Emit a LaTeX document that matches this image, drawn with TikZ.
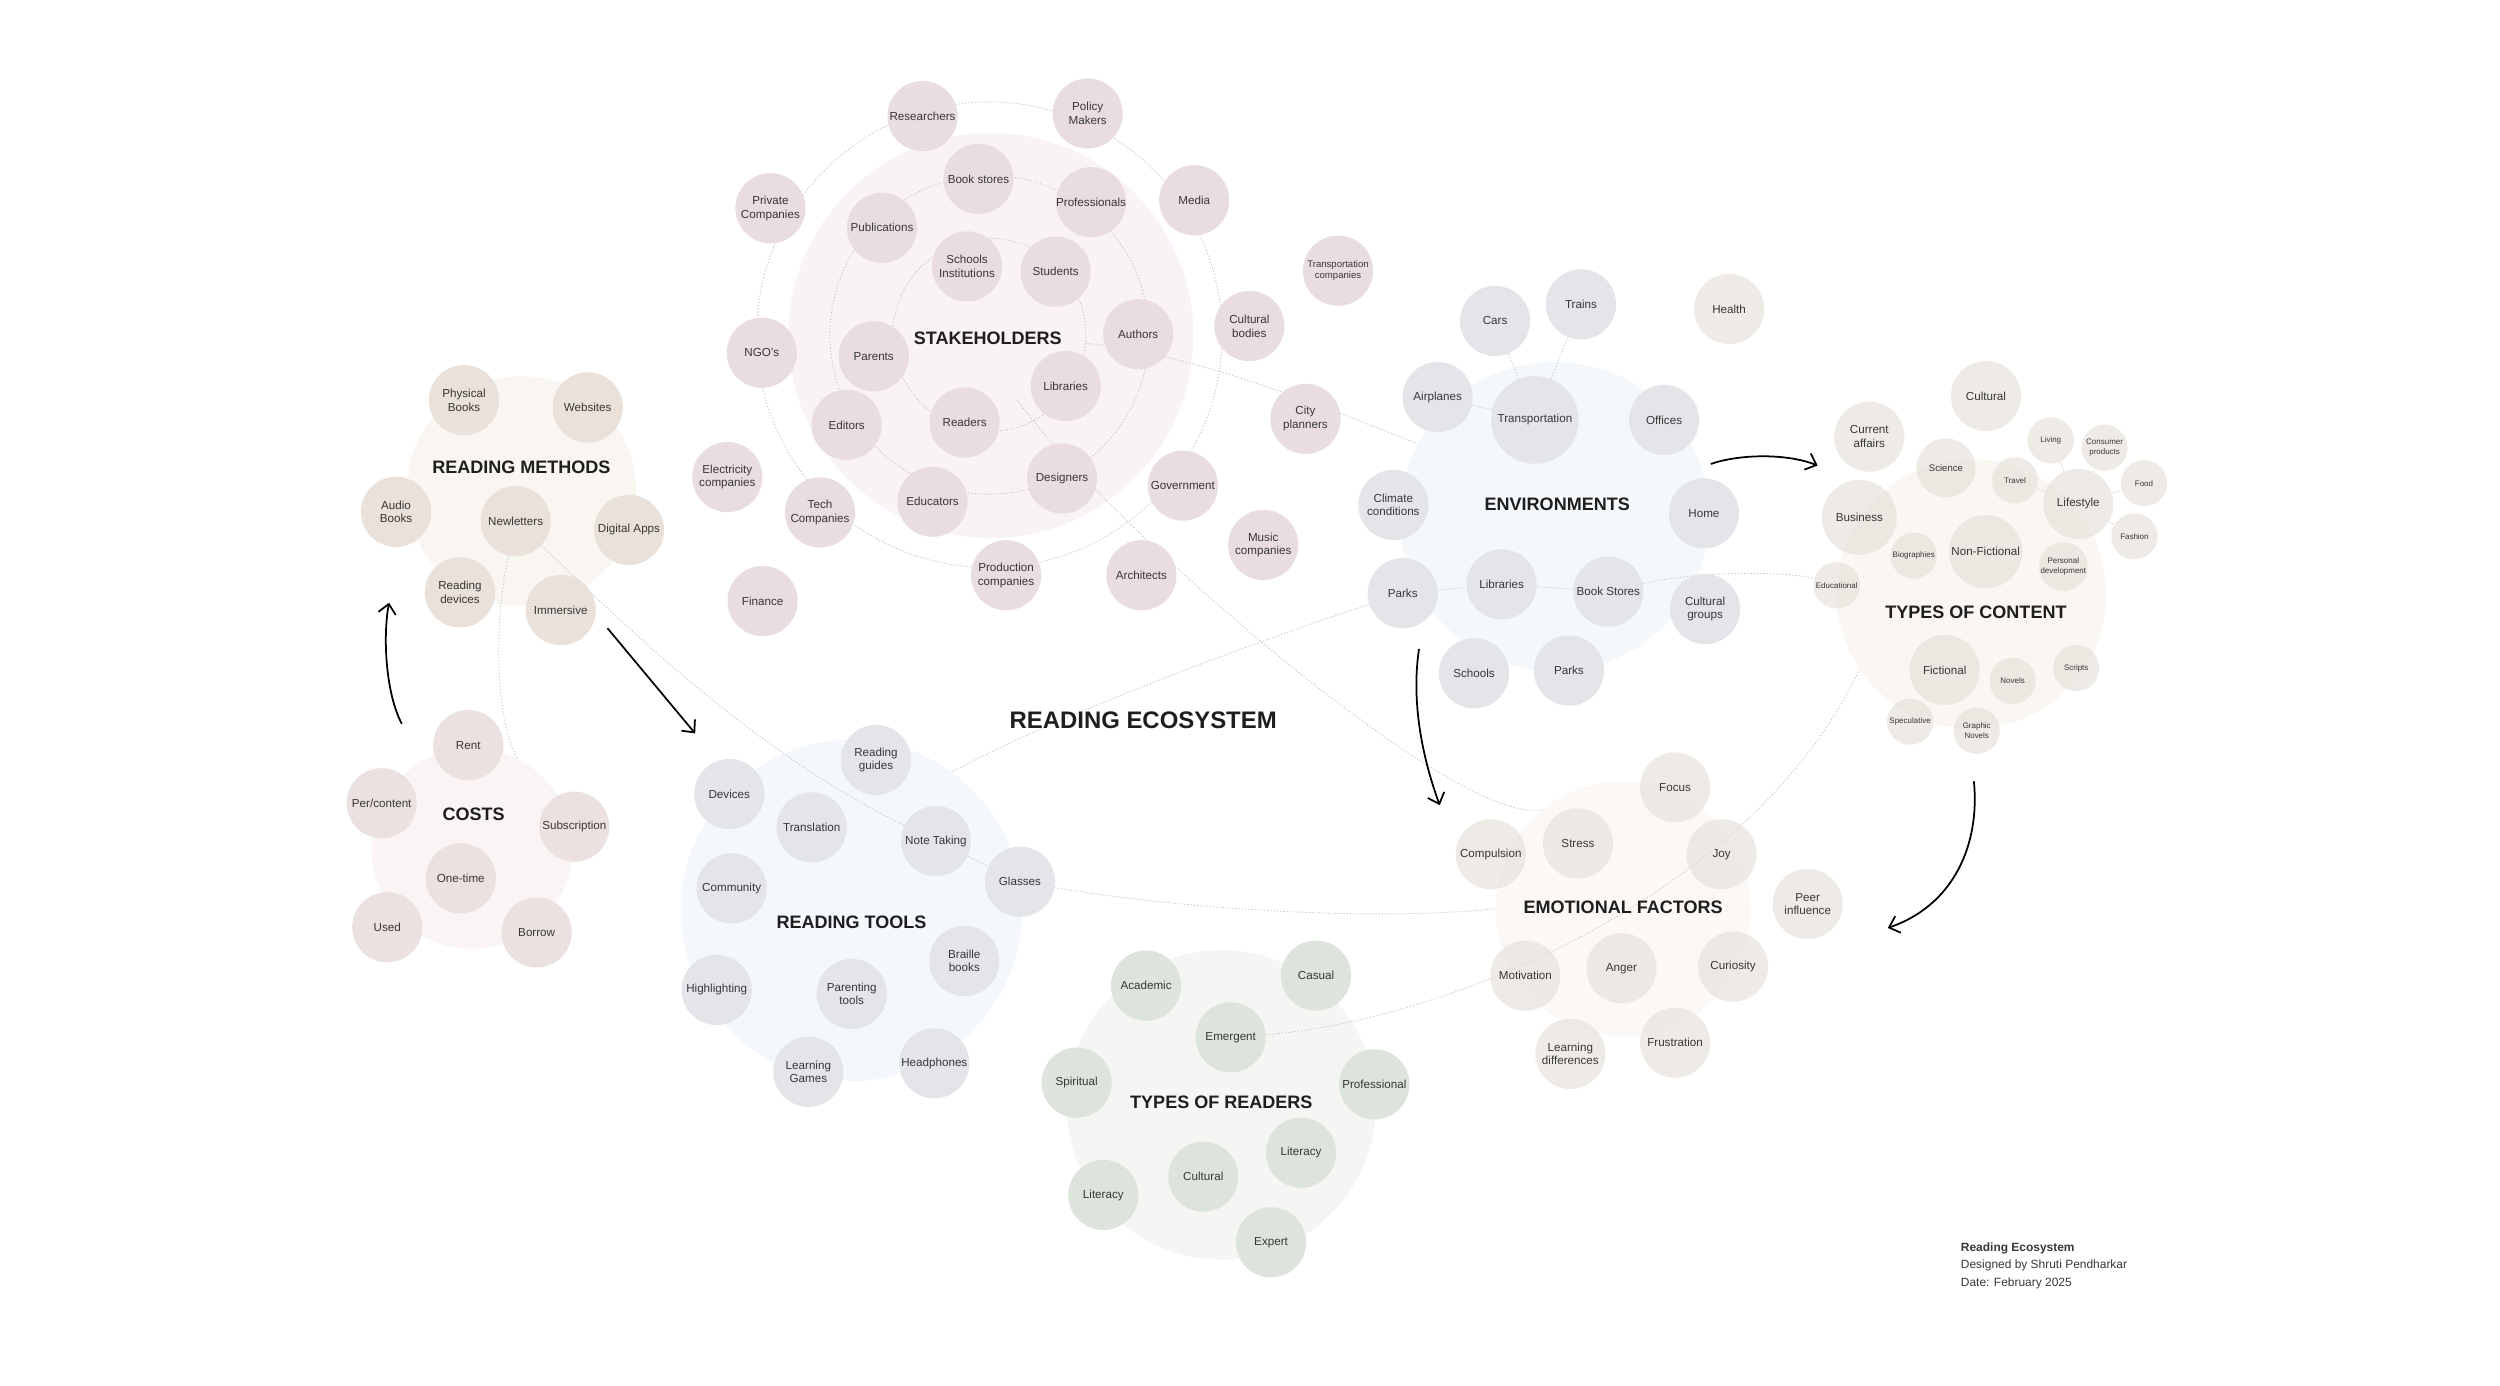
\documentclass[tikz,border=0pt]{standalone}
\usepackage{fontspec}
\setmainfont{Liberation Sans}
\usepackage{xcolor}
\usepackage{tikz}
\usetikzlibrary{arrows.meta}
\pgfdeclarelayer{back}
\pgfdeclarelayer{wires}
\pgfsetlayers{back,wires,main}

\definecolor{ink}{HTML}{383838}
\definecolor{headink}{HTML}{1E1E1E}
\definecolor{wire}{HTML}{C4C4C4}
\definecolor{stakefill}{HTML}{E9DDDF}
\definecolor{stakeback}{HTML}{FAF3F3}
\definecolor{methfill}{HTML}{E9E1DA}
\definecolor{methback}{HTML}{F9F6F1}
\definecolor{costfill}{HTML}{ECE1E1}
\definecolor{costback}{HTML}{FAF5F4}
\definecolor{toolfill}{HTML}{E3E5E9}
\definecolor{toolback}{HTML}{F4F7FB}
\definecolor{readfill}{HTML}{DDE4DB}
\definecolor{readback}{HTML}{F5F5F4}
\definecolor{envfill}{HTML}{E3E5E9}
\definecolor{envback}{HTML}{F5F8FB}
\definecolor{emofill}{HTML}{E4DED7}
\definecolor{emoback}{HTML}{FBF8F5}
\definecolor{contfill}{HTML}{E4DED7}
\definecolor{contback}{HTML}{FAF6F2}

\begin{document}
\begin{tikzpicture}[
  x=1pt, y=-1pt,
  >={Straight Barb[length=6pt, width=11pt]},
  bub/.style={circle, inner sep=0pt, minimum size=44pt, align=center, text=ink, font=\fontsize{7.3}{8.6}\selectfont},
  smallbub/.style={minimum size=29pt, font=\fontsize{5}{6}\selectfont},
  midbub/.style={minimum size=37pt, font=\fontsize{6}{7}\selectfont},
  stake/.style={bub, fill=stakefill},
  meth/.style={bub, fill=methfill},
  cost/.style={bub, fill=costfill},
  tool/.style={bub, fill=toolfill},
  reader/.style={bub, fill=readfill},
  env/.style={bub, fill=envfill},
  emo/.style={bub, fill=emofill, fill opacity=0.6, text opacity=1},
  cont/.style={bub, fill=contfill, fill opacity=0.6, text opacity=1},
  disc/.style={circle, inner sep=0pt},
  ring/.style={circle, inner sep=0pt, draw=wire, line width=0.5pt, dash pattern=on 0.8pt off 1.2pt},
  link/.style={draw=wire, line width=0.5pt, dash pattern=on 0.8pt off 1.2pt},
  head/.style={font=\fontsize{11.3}{13}\selectfont\bfseries, text=headink},
  flow/.style={->, line width=1.1pt},
]
  \useasboundingbox (0,0) rectangle (1568,869);

  \begin{pgfonlayer}{back}
    \fill[white] (0,0) rectangle (1568,869);
    \node[disc, fill=stakeback, minimum size=254pt] (stakedisc) at (621.5,210.5) {};
    \node[disc, fill=methback, minimum size=144pt] (methdisc) at (327,308) {};
    \node[disc, fill=costback, minimum size=126pt] (costdisc) at (296,532) {};
    \node[disc, fill=toolback, minimum size=214pt] (tooldisc) at (534,571) {};
    \node[disc, fill=readback, minimum size=194pt] (readdisc) at (766,693) {};
    \node[disc, fill=envback, minimum size=194pt] (envdisc) at (975,324) {};
    \node[disc, fill=emoback, minimum size=160pt] (emodisc) at (1018,570) {};
    \node[disc, fill=contback, minimum size=169pt] (contdisc) at (1236.5,372.5) {};
    \node[ring, minimum size=121pt] (ringA) at (620.5,210) {};
    \node[ring, minimum size=200pt] (ringB) at (620.5,210) {};
    \node[ring, minimum size=292pt] (ringC) at (620.5,210) {};
  \end{pgfonlayer}

  \node[stake] (researchers) at (578.6,72.8) {Researchers};
  \node[stake] (policy) at (682.2,71.2) {Policy\\Makers};
  \node[stake] (private) at (483.2,130.6) {Private\\Companies};
  \node[stake] (bookstoresS) at (613.7,112.2) {Book stores};
  \node[stake] (professionals) at (684.3,126.8) {Professionals};
  \node[stake] (media) at (749,125.6) {Media};
  \node[stake] (publications) at (553.2,142.9) {Publications};
  \node[stake] (schoolsS) at (606.5,167.1) {Schools\\Institutions};
  \node[stake] (students) at (662.1,170.4) {Students};
  \node[stake, font=\fontsize{6}{7}\selectfont] (transcomp) at (839.2,169.8) {Transportation\\companies};
  \node[stake] (culturalbodies) at (783.6,204.5) {Cultural\\bodies};
  \node[stake] (authors) at (713.9,209.6) {Authors};
  \node[stake] (ngos) at (477.8,221.3) {NGO's};
  \node[stake] (parents) at (548,223.5) {Parents};
  \node[stake] (librariesS) at (668.4,242.1) {Libraries};
  \node[stake] (editors) at (531,266.5) {Editors};
  \node[stake] (readers) at (605,265) {Readers};
  \node[stake] (cityplanners) at (818.8,262.7) {City\\planners};
  \node[stake] (electricity) at (456.2,299.2) {Electricity\\companies};
  \node[stake] (tech) at (514.3,321.4) {Tech\\Companies};
  \node[stake] (educators) at (584.9,314.7) {Educators};
  \node[stake] (designers) at (666.1,300.1) {Designers};
  \node[stake] (government) at (741.9,304.6) {Government};
  \node[stake] (music) at (792.3,341.8) {Music\\companies};
  \node[stake] (production) at (631,360.8) {Production\\companies};
  \node[stake] (architects) at (715.9,360.8) {Architects};
  \node[stake] (finance) at (478.3,377) {Finance};
  \node[head] (stakelabel) at (619.5,211.9) {STAKEHOLDERS};

  \node[meth] (physical) at (291,251) {Physical\\Books};
  \node[meth] (websites) at (368.6,255.5) {Websites};
  \node[meth] (audio) at (248.4,321) {Audio\\Books};
  \node[meth] (newletters) at (323.4,326.8) {Newletters};
  \node[meth] (digital) at (394.5,332.4) {Digital Apps};
  \node[meth] (devicesM) at (288.5,371.5) {Reading\\devices};
  \node[meth] (immersive) at (351.7,382.6) {Immersive};
  \node[head] (methlabel) at (327,293) {READING METHODS};

  \node[cost] (rent) at (293.7,467.3) {Rent};
  \node[cost] (percontent) at (239.4,503.8) {Per/content};
  \node[cost] (subscription) at (360.2,518.5) {Subscription};
  \node[cost] (onetime) at (289,550.9) {One-time};
  \node[cost] (used) at (242.9,581.6) {Used};
  \node[cost] (borrow) at (336.6,584.8) {Borrow};
  \node[head] (costlabel) at (297,511) {COSTS};

  \node[tool] (guides) at (549.4,476.7) {Reading\\guides};
  \node[tool] (devicesT) at (457.4,498) {Devices};
  \node[tool] (translation) at (509.1,518.9) {Translation};
  \node[tool] (notetaking) at (587,527.5) {Note Taking};
  \node[tool] (glasses) at (639.7,553) {Glasses};
  \node[tool] (community) at (458.9,557.2) {Community};
  \node[tool] (braille) at (604.8,602.7) {Braille\\books};
  \node[tool] (highlighting) at (449.5,620.9) {Highlighting};
  \node[tool] (parenting) at (534.2,623.4) {Parenting\\tools};
  \node[tool] (games) at (507,672.2) {Learning\\Games};
  \node[tool] (headphones) at (586,666.9) {Headphones};
  \node[head] (toollabel) at (534,578.5) {READING TOOLS};

  \node[reader] (academic) at (718.8,618.2) {Academic};
  \node[reader] (casual) at (825.4,611.9) {Casual};
  \node[reader] (emergent) at (771.9,650.6) {Emergent};
  \node[reader] (spiritual) at (675.3,679) {Spiritual};
  \node[reader] (professional) at (862,680.1) {Professional};
  \node[reader] (literacyA) at (816,723) {Literacy};
  \node[reader] (culturalR) at (754.7,738) {Cultural};
  \node[reader] (literacyB) at (692,749.5) {Literacy};
  \node[reader] (expert) at (797.2,779.2) {Expert};
  \node[head] (readlabel) at (766,691.4) {TYPES OF READERS};

  \node[env] (cars) at (937.7,201.3) {Cars};
  \node[env] (trains) at (991.6,190.9) {Trains};
  \node[env] (airplanes) at (901.7,249) {Airplanes};
  \node[env, minimum size=55pt] (transport) at (962.7,263.4) {Transportation};
  \node[env] (offices) at (1043.7,263.4) {Offices};
  \node[env] (climate) at (873.9,316.7) {Climate\\conditions};
  \node[env] (home) at (1068.7,322) {Home};
  \node[env] (parksA) at (879.8,372.1) {Parks};
  \node[env] (librariesE) at (941.8,366.5) {Libraries};
  \node[env] (bookstoresE) at (1008.7,371.1) {Book Stores};
  \node[env] (culturalgroups) at (1069.4,382) {Cultural\\groups};
  \node[env] (schoolsE) at (924.5,422.3) {Schools};
  \node[env] (parksB) at (984,420.6) {Parks};
  \node[head] (envlabel) at (976.7,316.6) {ENVIRONMENTS};
  \node[emo] (health) at (1084.5,193.8) {Health};

  \node[emo] (focus) at (1050.6,493.8) {Focus};
  \node[emo] (compulsion) at (935,535.8) {Compulsion};
  \node[emo] (stress) at (989.7,529) {Stress};
  \node[emo] (joy) at (1079.8,535.8) {Joy};
  \node[emo] (peer) at (1133.8,567) {Peer\\influence};
  \node[emo] (motivation) at (956.7,612) {Motivation};
  \node[emo] (anger) at (1017,607.3) {Anger};
  \node[emo] (curiosity) at (1087,606.3) {Curiosity};
  \node[emo] (learning) at (984.9,661) {Learning\\differences};
  \node[emo] (frustration) at (1050.6,654) {Frustration};
  \node[head] (emolabel) at (1018,569.3) {EMOTIONAL FACTORS};

  \node[cont] (culturalC) at (1245.6,248.4) {Cultural};
  \node[cont] (affairs) at (1172.4,273.9) {Current\\affairs};
  \node[cont, midbub] (science) at (1220.5,293.5) {Science};
  \node[cont, smallbub] (living) at (1286.2,276.2) {Living};
  \node[cont, smallbub] (consumer) at (1320,280.8) {Consumer\\products};
  \node[cont, smallbub] (travel) at (1263.8,301.3) {Travel};
  \node[cont, smallbub] (food) at (1344.7,303.1) {Food};
  \node[cont] (lifestyle) at (1303.5,316.1) {Lifestyle};
  \node[cont, minimum size=47pt] (business) at (1166.2,324.5) {Business};
  \node[cont, smallbub] (fashion) at (1338.7,336.4) {Fashion};
  \node[cont, smallbub] (biographies) at (1200.3,348.5) {Biographies};
  \node[cont, minimum size=46pt] (nonfiction) at (1245.4,346) {Non-Fictional};
  \node[cont, smallbub] (personal) at (1294.1,355.4) {Personal\\development};
  \node[cont, smallbub] (educational) at (1152,367.1) {Educational};
  \node[cont] (fictional) at (1219.7,420.2) {Fictional};
  \node[cont, smallbub] (novels) at (1262.3,427) {Novels};
  \node[cont, smallbub] (scripts) at (1302.2,419) {Scripts};
  \node[cont, smallbub] (speculative) at (1198,452.6) {Speculative};
  \node[cont, smallbub] (graphic) at (1239.8,458.3) {Graphic\\Novels};
  \node[head] (contlabel) at (1239.3,384.3) {TYPES OF CONTENT};

  \node[font=\fontsize{15}{18}\selectfont\bfseries, text=headink] (ecosystem) at (717,451.5) {READING ECOSYSTEM};
  \node[anchor=north west, align=left, inner sep=0pt, text=ink, font=\fontsize{7.5}{11}\selectfont] (credits) at (1229.7,779) {\textbf{Reading Ecosystem}\\Designed by Shruti Pendharkar\\Date: February 2025};

  \coordinate (archstart) at (638,251);
  \begin{pgfonlayer}{wires}
    \draw[link] (transport) -- (cars);
    \draw[link] (transport) -- (trains);
    \draw[link] (transport) -- (airplanes);
    \draw[link] (parksA) -- (librariesE) -- (bookstoresE);
    \draw[link] (bookstoresE) .. controls (1070,357) and (1125,359) .. (educational);
    \draw[link] (lifestyle) -- (living);
    \draw[link] (lifestyle) -- (consumer);
    \draw[link] (lifestyle) -- (food);
    \draw[link] (lifestyle) -- (fashion);
    \draw[link] (lifestyle) -- (travel);
    \draw[link] (ringA.-5) .. controls (750,222) and (830,255) .. (envdisc.152);
    \draw[link] (archstart) .. controls (695,329) and (914,520) .. (emodisc.129);
    \draw[link] (newletters) .. controls (390,390) and (470,470) .. (notetaking);
    \draw[link] (notetaking) -- (glasses);
    \draw[link] (glasses) .. controls (740,570) and (860,578) .. (emodisc.west);
    \draw[link] (tooldisc.54) .. controls (660,450) and (780,405) .. (parksA);
    \draw[link] (emergent) .. controls (910,640) and (1100,560) .. (contdisc.214);
    \draw[link] (newletters) .. controls (310,390) and (310,450) .. (costdisc.63);
  \end{pgfonlayer}

  \coordinate (costout) at (252,454);
  \coordinate (methin) at (244,378);
  \coordinate (methout) at (381,394);
  \coordinate (toolin) at (436,460);
  \coordinate (envout) at (890,407);
  \coordinate (emoin) at (903,505);
  \coordinate (envright) at (1073,291);
  \coordinate (contin) at (1140,292);
  \coordinate (contout) at (1238,490);
  \coordinate (emoright) at (1184,582);
  \draw[flow] (costout) .. controls (242,435) and (240,400) .. (methin);
  \draw[flow] (methout) -- (toolin);
  \draw[flow] (envout) .. controls (885,440) and (892,475) .. (emoin);
  \draw[flow] (envright) .. controls (1090,285) and (1120,284) .. (contin);
  \draw[flow] (contout) .. controls (1242,530) and (1225,568) .. (emoright);
\end{tikzpicture}
\end{document}
